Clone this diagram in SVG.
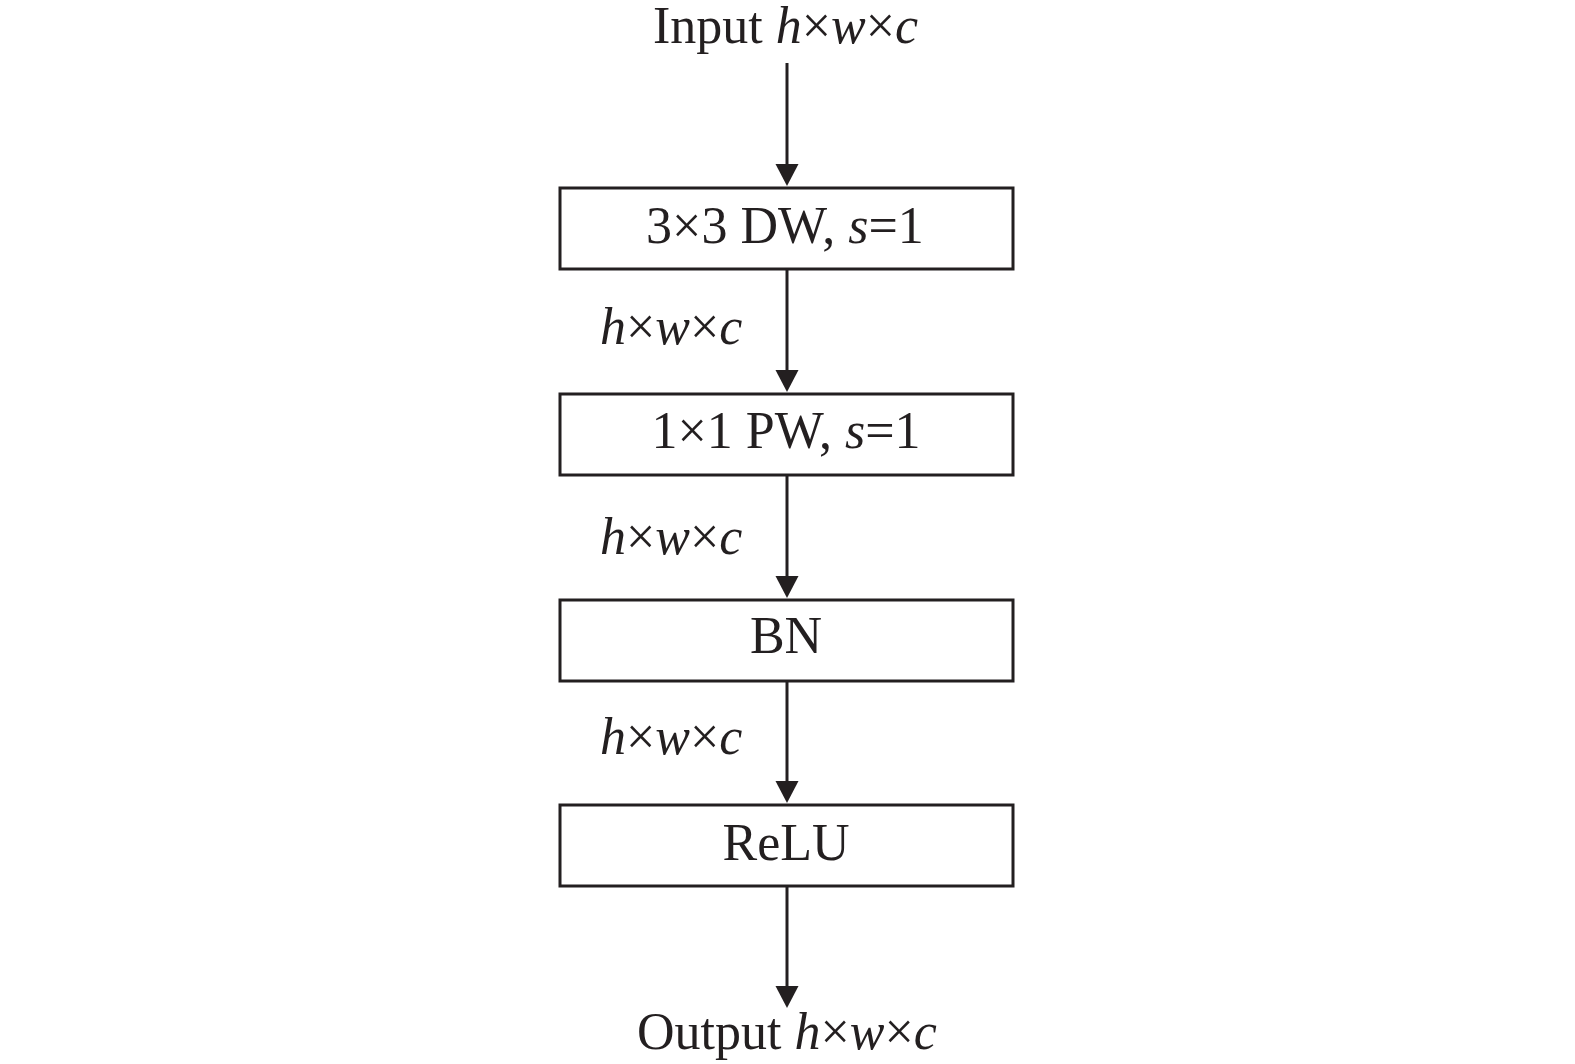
<svg xmlns="http://www.w3.org/2000/svg" width="1575" height="1064" viewBox="0 0 1575 1064">
<style>
text{font-family:"Liberation Serif","Times New Roman",serif;font-size:52px;fill:#231f20}
.i{font-style:italic}
.box{fill:#fff;stroke:#231f20;stroke-width:3}
.conn line{stroke:#231f20;stroke-width:3}
</style>
<defs>
<marker id="ah" markerUnits="userSpaceOnUse" markerWidth="24" markerHeight="24" refX="12" refY="11.5" orient="auto" viewBox="0 0 24 23">
<path d="M0,0 L22,11.5 L0,23 z" fill="#231f20"/>
</marker>
</defs>
<rect width="1575" height="1064" fill="#fff"/>
<g id="input"><text x="653" y="43">Input <tspan class="i">h</tspan>×<tspan class="i">w</tspan>×<tspan class="i">c</tspan></text></g>
<g id="dw"><rect class="box" x="560" y="188" width="453" height="81"/><text x="785" y="243" text-anchor="middle">3×3 DW, <tspan class="i">s</tspan>=1</text></g>
<g id="pw"><rect class="box" x="560" y="394" width="453" height="81"/><text x="786" y="448" text-anchor="middle">1×1 PW, <tspan class="i">s</tspan>=1</text></g>
<g id="bn"><rect class="box" x="560" y="600" width="453" height="81"/><text x="786" y="653" text-anchor="middle">BN</text></g>
<g id="relu"><rect class="box" x="560" y="805" width="453" height="81"/><text x="786" y="860" text-anchor="middle">ReLU</text></g>
<g id="output"><text x="637" y="1049">Output <tspan class="i">h</tspan>×<tspan class="i">w</tspan>×<tspan class="i">c</tspan></text></g>
<g id="label1"><text x="600" y="344"><tspan class="i">h</tspan>×<tspan class="i">w</tspan>×<tspan class="i">c</tspan></text></g>
<g id="label2"><text x="600" y="554"><tspan class="i">h</tspan>×<tspan class="i">w</tspan>×<tspan class="i">c</tspan></text></g>
<g id="label3"><text x="600" y="754"><tspan class="i">h</tspan>×<tspan class="i">w</tspan>×<tspan class="i">c</tspan></text></g>
<g class="conn">
<line x1="787" y1="63" x2="787" y2="176" marker-end="url(#ah)"/>
<line x1="787" y1="269" x2="787" y2="382" marker-end="url(#ah)"/>
<line x1="787" y1="475" x2="787" y2="588" marker-end="url(#ah)"/>
<line x1="787" y1="681" x2="787" y2="793" marker-end="url(#ah)"/>
<line x1="787" y1="886" x2="787" y2="998" marker-end="url(#ah)"/>
</g>
</svg>
